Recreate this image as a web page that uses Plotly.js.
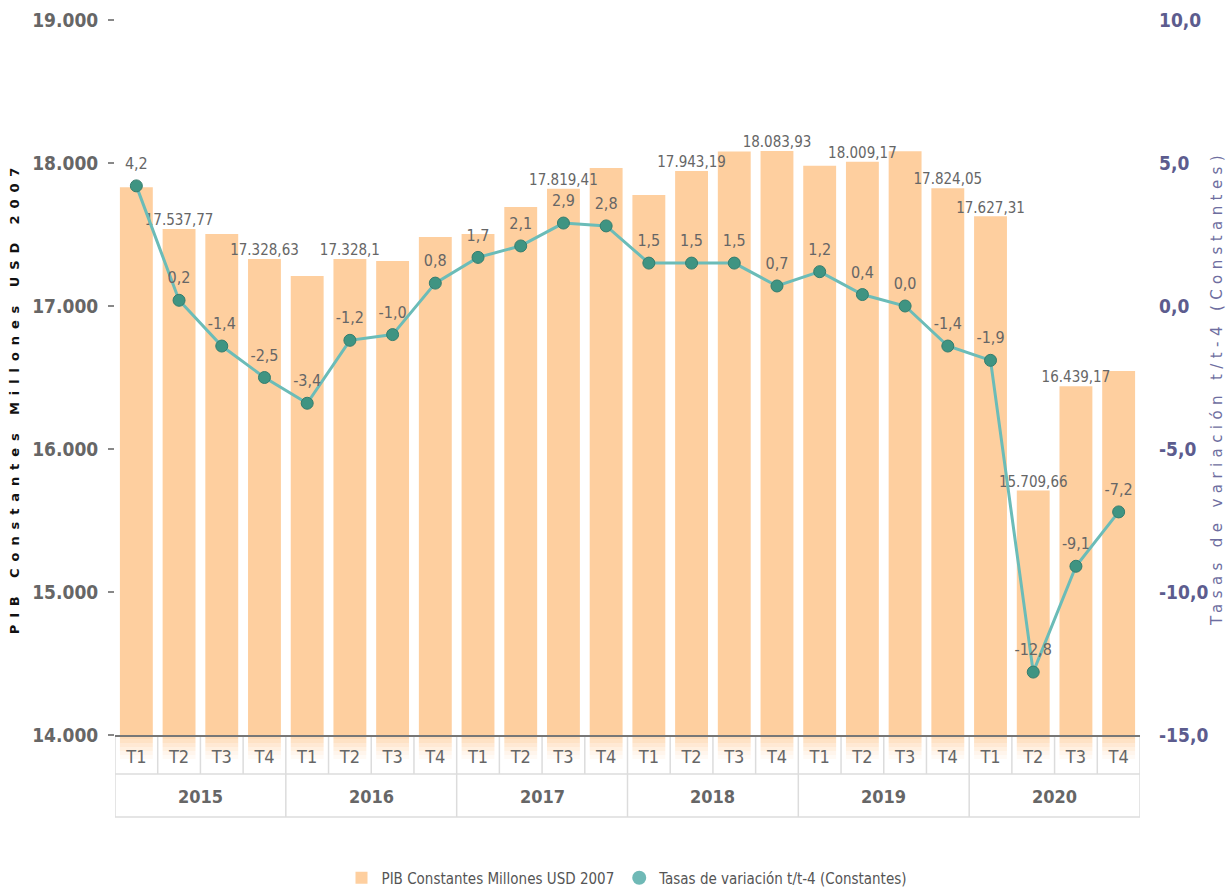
<!DOCTYPE html>
<html>
<head>
<meta charset="utf-8">
<script src="https://cdn.plot.ly/plotly-3.0.1.min.js"></script>
<style>
html,body{margin:0;padding:0;background:#fff;}
#chart{width:1229px;height:892px;}
</style>
</head>
<body>
<div id="chart"></div>
<script>
// ---- data ----
const years = ['2015','2016','2017','2018','2019','2020'];
const quarters = ['T1','T2','T3','T4'];
const pib = [
  17830, 17537.77, 17503, 17328.63,
  17210, 17328.1, 17315, 17483,
  17503, 17692, 17819.41, 17965,
  17776, 17943.19, 18080, 18083.93,
  17980, 18009.17, 18082, 17824.05,
  17627.31, 15709.66, 16439.17, 16545
];
const tasas = [
  4.2, 0.2, -1.4, -2.5,
  -3.4, -1.2, -1.0, 0.8,
  1.7, 2.1, 2.9, 2.8,
  1.5, 1.5, 1.5, 0.7,
  1.2, 0.4, 0.0, -1.4,
  -1.9, -12.8, -9.1, -7.2
];
// which bars carry a value label in the original
const pibLabelled = [1, 3, 5, 10, 13, 15, 17, 19, 20, 21, 22];
const pibName = 'PIB Constantes Millones USD 2007';
const tasaName = 'Tasas de variación t/t-4 (Constantes)';

// ---- derived ----
const periods = [], qLabels = [];
years.forEach(y => quarters.forEach(q => { periods.push(y + ' ' + q); qLabels.push(q); }));

function fmtEs(v, maxDec) {
  const neg = v < 0;
  let s = Math.abs(v).toFixed(maxDec);
  let [ip, dp] = s.split('.');
  ip = ip.replace(/\B(?=(\d{3})+(?!\d))/g, '.');
  return (neg ? '-' : '') + ip + (dp !== undefined ? ',' + dp : '');
}
function fmtPib(v) {
  let s = (Math.round(v * 100) / 100).toString();
  let [ip, dp] = s.split('.');
  ip = ip.replace(/\B(?=(\d{3})+(?!\d))/g, '.');
  return ip + (dp ? ',' + dp : '');
}
const pibText = pib.map((v, i) => pibLabelled.includes(i) ? fmtPib(v) : '');
const tasaText = tasas.map(v => fmtEs(v, 1));

const COND = "'DejaVu Sans Condensed', 'Liberation Sans Narrow', sans-serif";
const BARGAP = 0.23;
const BARCOLOR = '#fecf9f';

const traces = [
  {
    type: 'bar', name: pibName, x: periods, y: pib,
    marker: {color: BARCOLOR},
    hoverinfo: 'y'
  },
  {
    // value labels of the bars, drawn above every bar
    type: 'scatter', mode: 'text', x: periods, y: pib,
    text: pibText, textposition: 'top center', cliponaxis: false,
    textfont: {family: COND, size: 15, color: '#666'},
    showlegend: false, hoverinfo: 'skip'
  },
  {
    type: 'scatter', mode: 'lines+markers', name: tasaName,
    x: periods, y: tasas, yaxis: 'y2',
    line: {color: '#6bbcb8', width: 3},
    marker: {color: '#3f9482', size: 12, line: {color: '#347d6e', width: 1}},
    cliponaxis: false,
    showlegend: false
  },
  {
    // value labels of the rate line
    type: 'scatter', mode: 'markers+text', x: periods, y: tasas, yaxis: 'y2',
    marker: {size: 19, color: 'rgba(0,0,0,0)'},
    text: tasaText, textposition: 'top center', cliponaxis: false,
    textfont: {family: COND, size: 16, color: '#666'},
    showlegend: false, hoverinfo: 'skip'
  },
  {
    type: 'scatter', mode: 'markers', name: tasaName,
    x: [null], y: [null], yaxis: 'y2',
    marker: {color: '#6fb9b6', size: 14}
  }
];

// table-like x axis decoration
const shapes = [];
const gridColor = '#dcdcdc';
const n = periods.length;
// fading bar feet under the axis
const fade = [0.75, 0.6, 0.45, 0.32, 0.2, 0.1];
for (let i = 0; i < n; i++) {
  fade.forEach((op, k) => shapes.push({type: 'rect', xref: 'x', yref: 'paper', ysizemode: 'pixel', yanchor: 0,
    x0: i - (1 - BARGAP) / 2, x1: i + (1 - BARGAP) / 2, y0: -k * 4, y1: -(k + 1) * 4,
    fillcolor: BARCOLOR, opacity: op, line: {width: 0}, layer: 'below'}));
}
for (let i = 0; i <= n; i++) {
  shapes.push({type: 'line', xref: 'x', yref: 'paper', ysizemode: 'pixel', yanchor: 0,
    x0: i - 0.5, x1: i - 0.5, y0: 0, y1: -39, line: {color: gridColor, width: 1.5}, layer: 'below'});
}
for (let j = 0; j <= years.length; j++) {
  const xx = j * quarters.length - 0.5;
  shapes.push({type: 'line', xref: 'x', yref: 'paper', ysizemode: 'pixel', yanchor: 0,
    x0: xx, x1: xx, y0: -39, y1: -82, line: {color: gridColor, width: 1.5}, layer: 'below'});
}
[-39, -82].forEach(yy => shapes.push({type: 'line', xref: 'x', yref: 'paper', ysizemode: 'pixel', yanchor: 0,
  x0: -0.5, x1: n - 0.5, y0: yy, y1: yy, line: {color: gridColor, width: 1.5}, layer: 'below'}));

const annotations = years.map((y, j) => ({
  text: y, xref: 'x', yref: 'paper', x: j * quarters.length + (quarters.length - 1) / 2, y: 0,
  yshift: -61, showarrow: false, yanchor: 'middle',
  font: {family: COND, size: 18, color: '#666', weight: 'bold'}
}));

const layout = {
  width: 1229, height: 892,
  margin: {l: 115, r: 89, t: 20, b: 157, autoexpand: false},
  paper_bgcolor: '#fff', plot_bgcolor: '#fff',
  separators: ',.',
  bargap: BARGAP,
  showlegend: true,
  legend: {orientation: 'h', x: 0.5, xanchor: 'center', y: -0.2, yanchor: 'middle',
    font: {family: COND, size: 15, color: '#555'}},
  xaxis: {
    type: 'category', range: [-0.5, n - 0.5],
    tickvals: periods, ticktext: qLabels,
    tickfont: {family: COND, size: 18, color: '#666'},
    ticks: '', showgrid: false, zeroline: false,
    showline: true, linecolor: '#777', linewidth: 2,
    ticklabelstandoff: 4
  },
  yaxis: {
    range: [14000, 19000], tickvals: [14000, 15000, 16000, 17000, 18000, 19000],
    tickformat: ',d', showgrid: false, zeroline: false, showline: false,
    ticks: 'outside', ticklen: 6, tickcolor: '#888', tickwidth: 1.5,
    ticklabelstandoff: 6,
    tickfont: {family: COND, size: 19, color: '#666', weight: 'bold'},
    title: {text: pibName, standoff: 9,
      font: {family: "'DejaVu Sans', sans-serif", size: 13, color: '#111', weight: 'bold'}}
  },
  yaxis2: {
    overlaying: 'y', side: 'right', range: [-15, 10], tickvals: [-15, -10, -5, 0, 5, 10],
    ticktext: ['-15,0', '-10,0', '-5,0', '0,0', '5,0', '10,0'],
    showgrid: false, zeroline: false, showline: false, ticks: '',
    ticklabelstandoff: 18,
    tickfont: {family: COND, size: 19, color: '#5c5c8e', weight: 'bold'},
    title: {text: tasaName, standoff: 4,
      font: {family: "'DejaVu Sans', sans-serif", size: 15, color: '#6e6ea0'}}
  },
  shapes: shapes,
  annotations: annotations
};

Plotly.newPlot('chart', traces, layout, {displayModeBar: false, staticPlot: true}).then(() => {
  const yt = document.querySelector('.ytitle');
  if (yt) { yt.style.letterSpacing = '6.9px'; yt.setAttribute('dx', '-20'); }
  const yt2 = document.querySelector('.y2title');
  if (yt2) { yt2.style.letterSpacing = '5.4px'; yt2.setAttribute('dx', '-10'); }
});
</script>
</body>
</html>
